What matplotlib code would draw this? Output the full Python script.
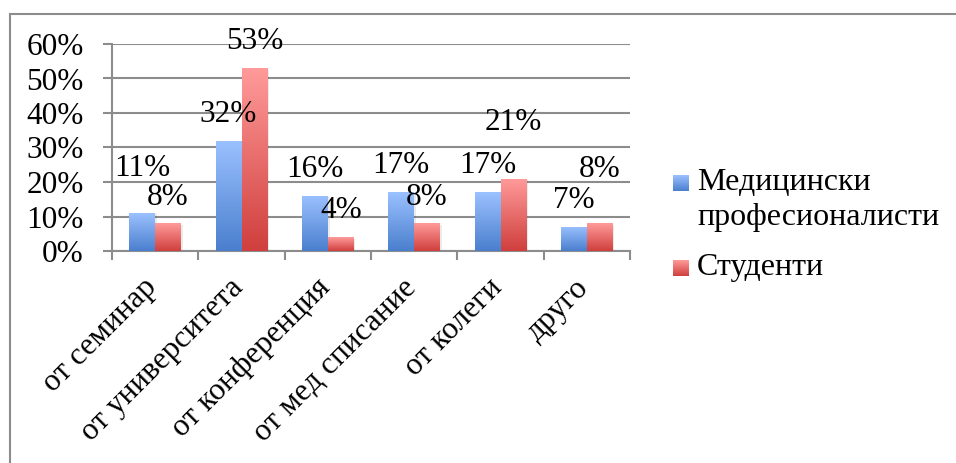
import numpy as np
import matplotlib.pyplot as plt
import matplotlib.transforms as mtransforms
from matplotlib.patches import Rectangle
from matplotlib.colors import LinearSegmentedColormap

categories = ["от семинар", "от университета", "от конференция",
              "от мед списание", "от колеги", "друго"]
medics = [0.11, 0.32, 0.16, 0.17, 0.17, 0.07]
students = [0.08, 0.53, 0.04, 0.08, 0.21, 0.08]
series_names = ["Медицински\nпрофесионалисти", "Студенти"]

blue_cmap = LinearSegmentedColormap.from_list("b", ["#4a7fce", "#9bc1ff"])
red_cmap = LinearSegmentedColormap.from_list("r", ["#cf3f3d", "#ff9b9a"])

plt.rcParams['font.family'] = ['Liberation Serif', 'DejaVu Serif']
plt.rcParams['font.size'] = 22.5

W, H = 956, 463
fig = plt.figure(figsize=(W / 100, H / 100), dpi=100)

# outer chart frame (only left and top visible in the crop)
fig.patches.append(Rectangle((10 / W, -0.1), 1.2, 1 - 14 / H + 0.1, transform=fig.transFigure,
                             fill=False, edgecolor="#8c8c8c", linewidth=1.5))

ax = fig.add_axes([112 / W, 1 - 251 / H, (630 - 112) / W, (251 - 44) / H])
x = np.arange(len(categories))
w = 0.3

grad = np.linspace(0, 1, 256).reshape(-1, 1)


def gradient_bars(bars, cmap):
    for b in bars:
        x0, y0 = b.get_x(), b.get_y()
        bw, bh = b.get_width(), b.get_height()
        # soft shadow
        ax.add_patch(Rectangle((x0 + 0.02, y0), bw, bh - 0.004, facecolor="#000000",
                               alpha=0.08, edgecolor="none", zorder=2))
        im = ax.imshow(grad, extent=(x0, x0 + bw, y0, y0 + bh), origin="lower",
                       cmap=cmap, aspect="auto", zorder=3)
        im.set_clip_path(b)
        b.set_alpha(0)


b1 = ax.bar(x - w / 2, medics, w, zorder=3)
b2 = ax.bar(x + w / 2, students, w, zorder=3)
gradient_bars(b1, blue_cmap)
gradient_bars(b2, red_cmap)

# data labels, a few are pushed up like in the original (extra points)
lift_blue = [13, 0, 0, 0, 0, 0]
lift_red = [0, 0, 0, 0, 21, 20]
for xs, vals, lifts, dx in [(x - w / 2, medics, lift_blue, 0), (x + w / 2, students, lift_red, 0)]:
    for xi, v, up in zip(xs, vals, lifts):
        ax.annotate(f"{round(v * 100)}%", (xi, v), xytext=(dx, 19 + up), textcoords="offset points",
                    ha="center", va="center", zorder=5)

ax.set_xlim(-0.5, len(categories) - 0.5)
ax.set_ylim(0, 0.6)
ax.set_yticks(np.arange(0, 0.61, 0.1))
ax.set_yticklabels([f"{int(round(t * 100))}%" for t in np.arange(0, 0.61, 0.1)])
ax.yaxis.grid(True, color="#8c8c8c", linewidth=1.5)
ax.set_axisbelow(True)

ax.set_xticks(np.arange(-0.5, len(categories), 1.0), minor=False)
ax.set_xticklabels([])
ax.set_xticks(x, minor=True)
ax.set_xticklabels(categories, minor=True, rotation=45, ha="right")
ax.tick_params(axis="x", which="minor", length=0, pad=16)
ax.tick_params(axis="x", which="major", length=6.5, width=1.5, color="#8c8c8c")
ax.tick_params(axis="y", length=6.5, width=1.5, color="#8c8c8c", pad=14)
shift = mtransforms.ScaledTranslation(8 / 100, 0, fig.dpi_scale_trans)
for lab in ax.get_xticklabels(minor=True):
    lab.set_transform(lab.get_transform() + shift)

for s in ["top", "right"]:
    ax.spines[s].set_visible(False)
for s in ["left", "bottom"]:
    ax.spines[s].set_color("#8c8c8c")
    ax.spines[s].set_linewidth(1.5)

# legend drawn by hand so the markers keep the gradient
for (y_top, cmap) in [(175, blue_cmap), (260, red_cmap)]:
    lax = fig.add_axes([673 / W, 1 - (y_top + 16) / H, 16 / W, 16 / H])
    lax.imshow(grad, origin="lower", cmap=cmap, aspect="auto")
    lax.axis("off")
fig.text(697 / W, 1 - 183 / H, "Медицински", va="center", fontsize=23)
fig.text(697 / W, 1 - 218 / H, "професионалисти", va="center", fontsize=23)
fig.text(697 / W, 1 - 268 / H, "Студенти", va="center", fontsize=23)

fig.savefig("out.png", dpi=100)
